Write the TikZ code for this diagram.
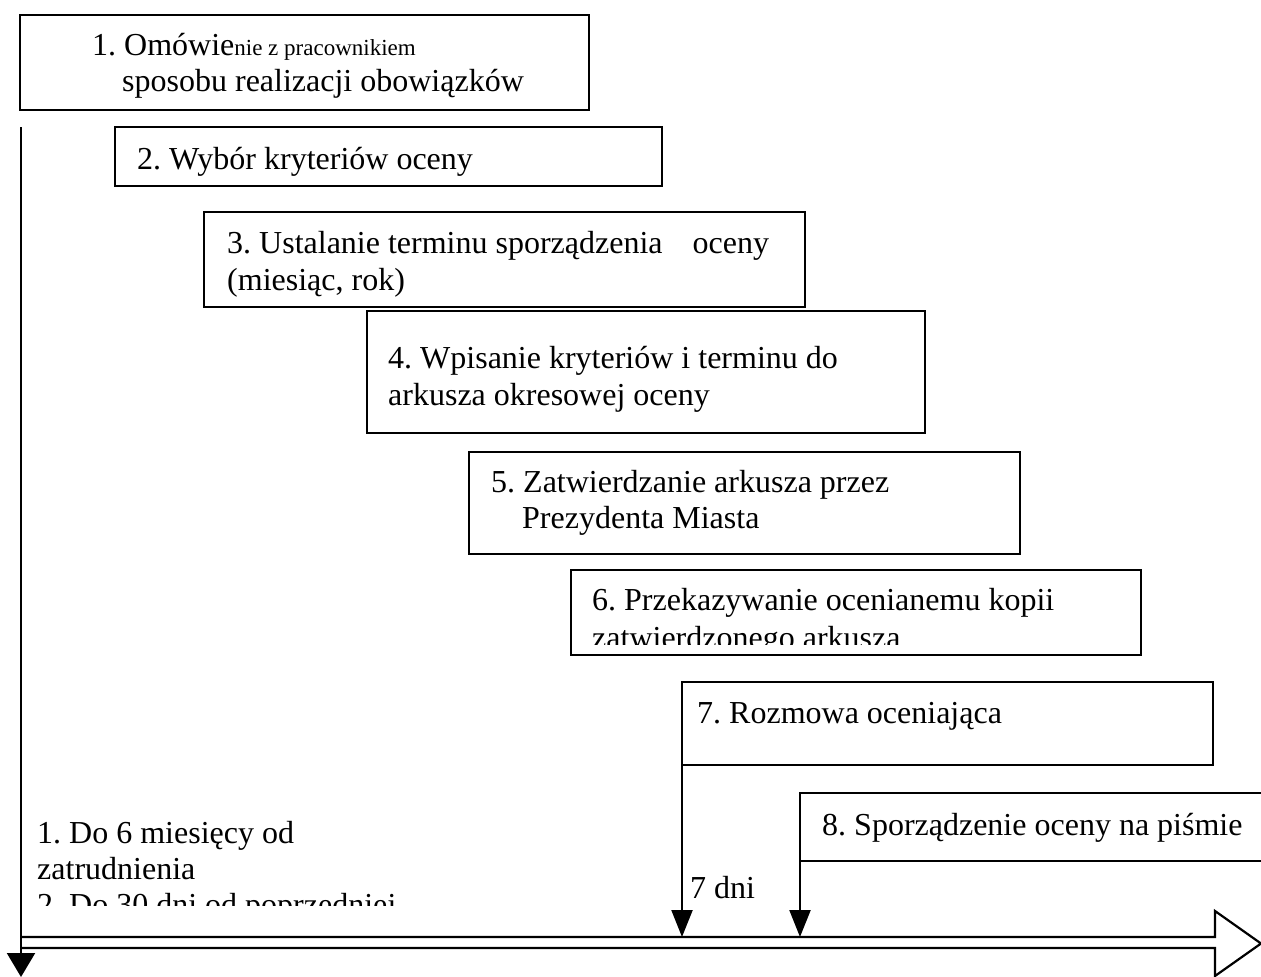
\documentclass[tikz,border=0pt]{standalone}
\usepackage{fontspec}
\setmainfont{Liberation Serif}
\usetikzlibrary{arrows.meta}
\frenchspacing
\begin{document}
\begin{tikzpicture}[x=1pt,y=-1pt,
  box/.style={draw, line width=2.2pt, rectangle, anchor=north west, inner sep=0pt, outer sep=0pt},
  frame/.style={rectangle, anchor=north west, inner sep=0pt, outer sep=0pt},
  txt/.style={anchor=base west, inner sep=0pt, font=\fontsize{32}{37}\selectfont},
  ln/.style={line width=2.2pt},
  conn/.style={line width=2.2pt, -{Triangle[length=27pt,width=21pt]}},
  leftarr/.style={line width=2.2pt, -{Triangle[length=24pt,width=28pt]}},
]
\useasboundingbox (0,0) rectangle (1261,977);
\fill[white] (0,0) rectangle (1261,977);

% boxes
\node[box, minimum width=569pt, minimum height=95pt] (b1) at (20,15) {};
\node[box, minimum width=547pt, minimum height=59pt] (b2) at (115,127) {};
\node[box, minimum width=601pt, minimum height=95pt] (b3) at (204,212) {};
\node[box, minimum width=558pt, minimum height=122pt] (b4) at (367,311) {};
\node[box, minimum width=551pt, minimum height=102pt] (b5) at (469,452) {};
\node[box, minimum width=570pt, minimum height=85pt] (b6) at (571,570) {};
\node[box, minimum width=531pt, minimum height=83pt] (b7) at (682,682) {};
\node[frame, minimum width=480pt, minimum height=68pt] (b8) at (800,793) {};
\draw[ln] (b8.north east) -- (b8.north west) -- (b8.south west) -- (b8.south east);

% texts
\node[txt] (t1a) at (92,55) {1. Omówie{\fontsize{23}{27}\selectfont nie z pracownikiem}};
\node[txt] (t1b) at (122,91) {sposobu realizacji obowiązków};
\node[txt] (t2) at (137,169) {2. Wybór kryteriów oceny};
\node[txt] (t3a) at (227,253) {3. Ustalanie terminu sporządzenia\hspace{30pt}oceny};
\node[txt] (t3b) at (227,290) {(miesiąc, rok)};
\node[txt] (t4a) at (388,368) {4. Wpisanie kryteriów i terminu do};
\node[txt] (t4b) at (388,405) {arkusza okresowej oceny};
\node[txt] (t5a) at (491,492) {5. Zatwierdzanie arkusza przez};
\node[txt] (t5b) at (522,528) {Prezydenta Miasta};
\node[txt] (t6a) at (592,610) {6. Przekazywanie ocenianemu kopii};
\begin{scope}
  \clip (571,570) rectangle (1141,644);
  \node[txt] (t6b) at (592,648) {zatwierdzonego arkusza};
\end{scope}
\node[txt] (t7) at (697,723) {7. Rozmowa oceniająca};
\node[txt] (t8) at (822,835) {8. Sporządzenie oceny na piśmie};
\node[txt] (d7) at (690,898) {7 dni};
\node[txt] (l1) at (37,843) {1. Do 6 miesięcy od};
\node[txt] (l2) at (37,879) {zatrudnienia};
\begin{scope}
  \clip (30,880) rectangle (660,905);
  \node[txt] (l3) at (37,915) {2. Do 30 dni od poprzedniej};
\end{scope}

% timeline big arrow
\draw[ln, fill=white] (21,937) -- (1215,937) -- (1215,911) -- (1261,943.5) -- (1215,976) -- (1215,948) -- (21,948);

% connectors
\coordinate (L0) at (21,127);
\coordinate (L1) at (21,977);
\draw[leftarr] (L0) -- (L1);
\coordinate (e7) at (682,937);
\coordinate (e8) at (800,937);
\draw[conn] (b7.south west) -- (e7);
\draw[conn] (b8.south west) -- (e8);
\end{tikzpicture}
\end{document}
